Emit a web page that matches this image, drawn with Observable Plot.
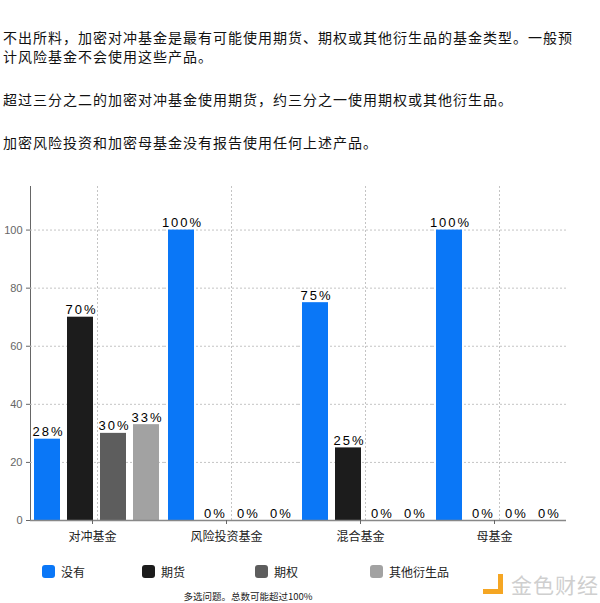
<!DOCTYPE html>
<html>
<head>
<meta charset="utf-8">
<script src="https://cdn.jsdelivr.net/npm/d3@7"></script>
<script src="https://cdn.jsdelivr.net/npm/@observablehq/plot@0.6"></script>
<style>
  html, body { margin: 0; padding: 0; background: #fff; }
  body { width: 600px; height: 603px; position: relative; overflow: hidden;
         font-family: "Noto Sans CJK SC", "Noto Sans", sans-serif; color: #111; }
  #intro { position: absolute; top: 28px; left: 3px; width: 597px; }
  #intro p { margin: 0 0 24px 0; font-size: 14px; line-height: 19px; letter-spacing: 1px; white-space: nowrap; }
  #chart { position: absolute; top: 176px; left: 0; }
  #chart g[aria-label="text"] text { letter-spacing: 2px; }
  .leg { position: absolute; top: 563px; display: flex; align-items: center; font-size: 12px; color: #222; }
  .leg .sw { width: 13px; height: 13px; border-radius: 3px; margin-right: 6px; }
  #caption { position: absolute; top: 589px; left: 0; width: 496px; text-align: center; font-size: 9.5px; color: #222; }
  #mark { position: absolute; left: 483px; top: 569px; display: flex; align-items: center; font-size: 21px; color: #cfcfcf; letter-spacing: 1px; }
  #mark .ic { width: 20px; height: 20px; border: 5px solid #f5a623; border-top: none; border-left: none; box-sizing: border-box; margin-right: 8px; }
</style>
</head>
<body>
<div id="intro">
  <p>不出所料，加密对冲基金是最有可能使用期货、期权或其他衍生品的基金类型。一般预<br>计风险基金不会使用这些产品。</p>
  <p>超过三分之二的加密对冲基金使用期货，约三分之一使用期权或其他衍生品。</p>
  <p>加密风险投资和加密母基金没有报告使用任何上述产品。</p>
</div>
<div id="chart"></div>
<div id="legend"></div>
<div id="caption">多选问题。总数可能超过100%</div>
<div id="mark"><span class="ic"></span>金色财经</div>
<script>
const categories = ["对冲基金", "风险投资基金", "混合基金", "母基金"];
const series = ["没有", "期货", "期权", "其他衍生品"];
const noneValues = [28, 100, 75, 100];
const futuresValues = [70, 0, 25, 0];
const optionsValues = [30, 0, 0, 0];
const otherValues = [33, 0, 0, 0];
const colors = ["#0a77f7", "#1c1c1c", "#5d5d5d", "#a2a2a2"];
const yTicks = [0, 20, 40, 60, 80, 100];
const legendLeft = [42, 142, 255, 370];

const seriesValues = [noneValues, futuresValues, optionsValues, otherValues];
const data = categories.flatMap((c, i) =>
  series.map((s, j) => ({category: c, series: s, value: seriesValues[j][i]}))
);

const chart = Plot.plot({
  width: 600,
  height: 374,
  marginLeft: 29,
  marginRight: 33,
  marginTop: 10,
  marginBottom: 30,
  style: {fontFamily: "Arial, 'Liberation Sans', sans-serif", fontSize: "11px", color: "#666", background: "#fff"},
  fx: {domain: categories, padding: 0, label: null},
  x: {domain: series, paddingInner: 0.2, paddingOuter: 0.1, axis: null},
  y: {domain: [0, 115], ticks: yTicks, tickSize: 4, tickPadding: 4, label: null, line: true},
  color: {domain: series, range: colors},
  marks: [
    Plot.gridY(yTicks.slice(1), {stroke: "#c4c4c4", strokeOpacity: 1, strokeDasharray: "2,2"}),
    Plot.gridFx({stroke: "#c4c4c4", strokeOpacity: 1, strokeDasharray: "2,2"}),
    Plot.barY(data, {fx: "category", x: "series", y: "value", fill: "series"}),
    Plot.text(data, {fx: "category", x: "series", y: "value", text: d => d.value + "%",
      lineAnchor: "bottom", dy: -3, dx: 1, fontSize: 13, fill: "#000"}),
    Plot.ruleY([0], {stroke: "#888", strokeWidth: 1.5}),
    Plot.axisFx({anchor: "bottom", tickSize: 4, tickPadding: 8, label: null, stroke: "#666",
      fill: "#222", fontSize: 12, fontFamily: "'Noto Sans CJK SC', sans-serif", dx: -5})
  ]
});
document.getElementById("chart").appendChild(chart);

const legend = document.getElementById("legend");
series.forEach((s, i) => {
  const item = document.createElement("div");
  item.className = "leg";
  item.style.left = legendLeft[i] + "px";
  const sw = document.createElement("span");
  sw.className = "sw";
  sw.style.background = colors[i];
  const t = document.createElement("span");
  t.textContent = s;
  item.appendChild(sw);
  item.appendChild(t);
  legend.appendChild(item);
});
</script>
</body>
</html>
